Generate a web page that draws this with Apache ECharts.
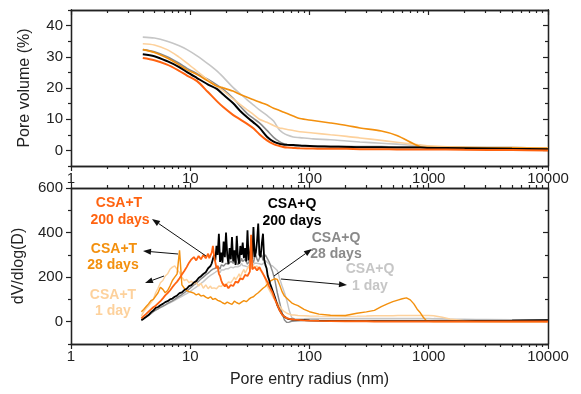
<!DOCTYPE html>
<html>
<head>
<meta charset="utf-8">
<script src="https://cdn.jsdelivr.net/npm/echarts@6/dist/echarts.min.js"></script>
<style>
  html, body { margin: 0; padding: 0; background: #fff; }
  #chart { width: 581px; height: 394px; }
</style>
</head>
<body>
<div id="chart"></div>
<script>
// cumulative pore volume (top panel)
const topRadius = [4, 5, 6.4, 8, 9.4, 11.4, 14, 16.7, 19, 22.8, 26, 30, 34, 38, 44, 50, 56, 60, 65, 73, 83, 107, 150, 205, 265, 400, 540, 740, 850, 970, 2000, 5000, 10000]
const volQ200 = [30.8, 30.2, 28.6, 26.8, 25.1, 23.2, 21.2, 19.7, 17.8, 15.2, 12.8, 10.6, 8.9, 7.3, 4.4, 2.8, 2.1, 1.9, 1.8, 1.7, 1.6, 1.3, 1.2, 1.1, 1.0, 1.0, 0.9, 0.9, 0.9, 0.8, 0.7, 0.5, 0.4]
const volQ28 = [32.3, 31.6, 30.0, 28.0, 26.3, 24.6, 22.8, 21.0, 19.5, 16.8, 14.3, 11.8, 10.2, 8.8, 6.4, 4.2, 2.8, 2.2, 1.8, 1.6, 1.5, 1.4, 1.3, 1.3, 1.2, 1.2, 1.1, 1.1, 1.0, 1.0, 0.9, 0.9, 0.8]
const volQ1 = [36.3, 36.0, 35.0, 33.6, 32.3, 30.3, 27.8, 25.5, 23.4, 20.2, 18.3, 16.2, 14.5, 13.0, 11.2, 9.4, 6.5, 5.6, 4.9, 4.3, 4.1, 3.7, 3.4, 3.0, 2.7, 2.3, 2.0, 1.6, 1.4, 1.2, 1.0, 0.9, 0.8]
const volT1 = [34.2, 33.8, 32.3, 30.0, 28.0, 25.4, 22.6, 20.5, 19.0, 16.5, 14.8, 13.0, 11.5, 10.0, 9.0, 8.0, 7.2, 7.0, 6.7, 6.4, 6.0, 5.6, 5.0, 4.5, 4.0, 3.2, 2.6, 2.0, 1.8, 1.5, 1.0, 0.9, 0.8]
const volT28 = [32.3, 31.4, 29.6, 27.5, 25.8, 24.3, 22.3, 20.6, 20.0, 19.0, 18.0, 17.0, 16.2, 15.5, 14.6, 13.5, 12.8, 12.3, 11.8, 11.0, 10.2, 9.6, 8.8, 8.0, 7.2, 6.2, 4.8, 2.2, 1.2, 1.0, 0.9, 0.8, 0.7]
const volT200 = [29.6, 28.9, 27.5, 25.6, 24.0, 22.2, 18.8, 15.8, 13.8, 11.4, 10.0, 8.5, 7.0, 5.2, 3.2, 2.0, 1.4, 1.1, 0.9, 0.8, 0.7, 0.6, 0.5, 0.5, 0.4, 0.4, 0.3, 0.3, 0.3, 0.3, 0.2, 0.1, 0.0]

// differential distribution (bottom panel)
const radius = [
  3.89, 4.07, 4.27, 4.47, 4.68, 4.90, 5.13, 5.37, 5.62, 5.89, 6.17, 6.46, 6.76, 7.08, 7.41, 7.76, 8.13, 8.51, 8.91, 9.33,
  9.77, 10.23, 10.72, 11.22, 11.75, 12.30, 12.88, 13.49,
  14.13, 14.45, 14.79, 15.14, 15.49, 15.85, 16.22, 16.60, 16.98, 17.38,
  17.78, 18.20, 18.62, 19.05, 19.50, 19.95, 20.42, 20.89, 21.38, 21.88,
  22.39, 22.91, 23.44, 23.99, 24.55, 25.12, 25.70, 26.30, 26.92, 27.54,
  28.18, 28.84, 29.51, 30.20, 30.90, 31.62, 32.36, 33.11, 33.88, 34.67,
  35.48, 36.31, 37.15, 38.02, 38.90, 39.81, 40.74, 41.69, 42.66, 43.65,
  44.67, 45.71, 46.77, 47.86, 48.98, 50.12, 51.29,
  53.70, 56.23, 58.88, 61.66, 64.57, 67.61, 70.79,
  75, 80, 90, 100, 120, 150, 200, 250, 300, 350, 400, 450, 500, 550, 600, 650,
  700, 750, 800, 850, 900, 950, 1000, 1100, 1300, 1500, 2000, 2500, 3000, 5000, 7000, 10000]
const dvQ200 = [
  8, 14, 22, 30, 42, 50, 62, 66, 74, 80, 88, 92, 100, 104, 112, 118, 128, 132, 142, 148,
  160, 164, 176, 182, 196, 204, 214, 222,
  240, 236, 250, 262, 255, 300, 275, 340, 300, 395,
  268, 310, 265, 360, 290, 400, 300, 260, 330, 280,
  380, 270, 320, 255, 385, 290, 260, 340, 300, 355,
  285, 330, 270, 410, 275, 300, 350, 280, 425, 290,
  310, 360, 440, 300, 290, 350, 395, 280, 255, 240,
  205, 190, 170, 155, 140, 125, 110,
  75, 52, 33, 22, 15, 12, 10,
  9, 8, 7, 6, 5, 4, 4, 3, 3, 3, 3, 3, 3, 3, 3, 3,
  3, 3, 3, 3, 3, 3, 3, 3, 3, 3, 3, 4, 4, 5, 6, 7]
const dvQ28 = [
  5, 12, 20, 28, 36, 45, 52, 58, 64, 70, 76, 82, 88, 94, 100, 108, 115, 122, 130, 138,
  146, 155, 165, 172, 182, 192, 200, 210,
  218, 225, 228, 232, 236, 230, 240, 248, 250, 242,
  236, 255, 262, 250, 245, 262, 270, 258, 250, 272,
  280, 262, 258, 275, 270, 255, 250, 268, 285, 270,
  262, 280, 275, 258, 250, 275, 290, 278, 265, 290,
  300, 280, 270, 285, 285, 300, 275, 290, 300, 295,
  280, 270, 258, 240, 225, 205, 185,
  130, 85, 40, 8, -3, -2, 2,
  3, 4, 5, 5, 6, 6, 6, 6, 6, 6, 6, 6, 6, 6, 6, 6,
  6, 6, 6, 6, 6, 6, 6, 6, 6, 6, 6, 6, 6, 7, 8, 8]
const dvQ1 = [
  10, 16, 22, 30, 38, 46, 52, 58, 63, 68, 74, 80, 85, 90, 96, 102, 108, 114, 120, 126,
  133, 140, 148, 155, 165, 172, 180, 190,
  200, 204, 208, 212, 215, 220, 222, 226, 230, 224,
  220, 232, 240, 232, 228, 238, 245, 238, 235, 245,
  250, 242, 238, 248, 255, 246, 240, 252, 262, 252,
  245, 250, 255, 246, 240, 255, 265, 255, 248, 262,
  270, 262, 255, 260, 265, 256, 250, 265, 275, 270,
  265, 260, 255, 252, 250, 245, 240,
  230, 193, 160, 130, 95, 50, 20,
  12, 12, 13, 14, 15, 15, 15, 15, 15, 15, 15, 15, 15, 15, 15, 15,
  15, 15, 15, 15, 15, 15, 15, 14, 13, 12, 11, 10, 10, 9, 9, 8]
const dvT1 = [
  25, 45, 60, 72, 85, 100, 130, 150, 175, 185, 205, 215, 235, 245, 250, 235, 220, 200, 185, 190,
  175, 182, 170, 178, 160, 172, 150, 165,
  148, 155, 160, 150, 145, 152, 158, 148, 150, 160,
  165, 158, 155, 168, 175, 165, 165, 178, 185, 175,
  175, 190, 200, 188, 190, 205, 215, 200, 205, 225,
  235, 218, 220, 240, 250, 232, 235, 255, 260, 245,
  240, 250, 238, 245, 230, 225, 215, 205, 190, 170,
  155, 145, 140, 125, 115, 105, 98,
  85, 70, 55, 45, 38, 34, 30,
  30, 28, 27, 26, 25, 24, 24, 25, 26, 27, 27, 27, 27, 28, 28, 28,
  28, 28, 28, 28, 28, 28, 28, 27, 20, 12, 5, 2, 1, 0, 0, 0]
const dvT28 = [
  45, 55, 68, 80, 95, 100, 115, 130, 155, 145, 130, 140, 160, 185, 200, 215, 320, 165, 150, 140,
  135, 132, 128, 120, 125, 115, 118, 110,
  105, 110, 112, 104, 100, 106, 104, 98, 96, 94,
  92, 88, 85, 82, 80, 86, 88, 84, 82, 80,
  78, 86, 92, 88, 85, 82, 80, 84, 88, 92,
  95, 92, 90, 96, 100, 104, 108, 110, 112, 118,
  122, 126, 130, 135, 140, 146, 150, 155, 158, 165,
  170, 176, 182, 185, 188, 190, 193,
  190, 165, 135, 115, 105, 95, 85,
  78, 72, 55, 45, 34, 29, 28, 38, 44, 51, 68, 80, 90, 97, 103, 107,
  98, 80, 56, 40, 20, 6, 2, 1, 1, 1, 1, 1, 1, 1, 1, 1]
const dvT200 = [
  15, 25, 35, 45, 55, 65, 72, 82, 92, 105, 118, 128, 140, 155, 168, 180, 195, 212, 228, 245,
  265, 280, 290, 275, 295, 280, 300, 285,
  305, 285, 290, 310, 340, 295, 300, 240, 250, 215,
  205, 185, 172, 165, 158, 168, 162, 150, 150, 165,
  170, 160, 168, 180, 185, 175, 178, 195, 200, 190,
  195, 210, 215, 205, 208, 225, 390, 235, 230, 245,
  240, 230, 225, 245, 235, 225, 215, 205, 200, 185,
  175, 160, 150, 140, 130, 115, 100,
  75, 50, 32, 22, 16, 13, 11,
  9, 8, 6, 5, 4, 3, 2, 2, 2, 1, 1, 1, 1, 1, 1, 1,
  1, 1, 1, 1, 1, 1, 1, 1, 1, 1, 1, 1, 1, 1, 1, 1]

const xMajor = [1, 10, 100, 1000, 10000]
const xMinor = [2, 3, 4, 5, 6, 7, 8, 9, 20, 30, 40, 50, 60, 70, 80, 90, 200, 300, 400, 500, 600, 700, 800, 900,
  2000, 3000, 4000, 5000, 6000, 7000, 8000, 9000]
const volTicks = [0, 10, 20, 30, 40]
const volMinor = [-5, 5, 15, 25, 35, 45]
const dvTicks = [0, 200, 400, 600]
const dvMinor = [-100, 100, 300, 500]

const samples = [
  { name: 'CSA+Q 1 day', color: '#c6c6c6', width: 1.6, vol: volQ1, dv: dvQ1 },
  { name: 'CSA+Q 28 days', color: '#8a8a8a', width: 1.6, vol: volQ28, dv: dvQ28 },
  { name: 'CSA+T 1 day', color: '#fdd19c', width: 1.6, vol: volT1, dv: dvT1 },
  { name: 'CSA+T 28 days', color: '#f3900e', width: 1.6, vol: volT28, dv: dvT28 },
  { name: 'CSA+Q 200 days', color: '#000000', width: 2, vol: volQ200, dv: dvQ200 },
  { name: 'CSA+T 200 days', color: '#ff6310', width: 2, vol: volT200, dv: dvT200 }
]

const FONT = 'Liberation Sans, Arial, sans-serif'
const AX = '#222'

function xAxis(grid, pos, ticks, len, inside, withLabel) {
  return {
    type: 'log', logBase: 10, min: 1, max: 10000, gridIndex: grid, position: pos,
    axisLine: { show: true, onZero: false, lineStyle: { color: AX, width: 1.3 } },
    axisTick: { show: true, inside: inside, length: len, customValues: ticks, lineStyle: { color: AX, width: 1.2 } },
    axisLabel: withLabel
      ? { show: true, customValues: xMajor, formatter: v => String(v), fontSize: 15, color: AX, fontFamily: FONT, margin: 5 }
      : { show: false },
    splitLine: { show: false }
  }
}

function yAxis(grid, pos, min, max, ticks, len, inside, withLabel) {
  return {
    type: 'value', min: min, max: max, gridIndex: grid, position: pos,
    axisLine: { show: true, onZero: false, lineStyle: { color: AX, width: 1.3 } },
    axisTick: { show: true, inside: inside, length: len, customValues: ticks, lineStyle: { color: AX, width: 1.2 } },
    axisLabel: withLabel
      ? { show: true, customValues: ticks, fontSize: 15, color: AX, fontFamily: FONT, margin: 8 }
      : { show: false },
    splitLine: { show: false }
  }
}

const xAxes = [
  xAxis(0, 'bottom', xMajor, 5, false, true),
  xAxis(0, 'bottom', xMinor, 3, false, false),
  xAxis(0, 'top', xMajor, 5, true, false),
  xAxis(0, 'top', xMinor, 3, true, false),
  xAxis(1, 'bottom', xMajor, 5, false, true),
  xAxis(1, 'bottom', xMinor, 3, false, false),
  xAxis(1, 'top', xMajor, 5, false, false),
  xAxis(1, 'top', xMinor, 3, false, false)
]
xAxes[4].name = 'Pore entry radius (nm)'
xAxes[4].nameLocation = 'middle'
xAxes[4].nameGap = 28
xAxes[4].nameTextStyle = { fontSize: 16, color: AX, fontFamily: FONT }

const yAxes = [
  yAxis(0, 'left', -5, 45, volTicks, 5, false, true),
  yAxis(0, 'left', -5, 45, volMinor, 3, false, false),
  yAxis(0, 'right', -5, 45, volTicks, 5, true, false),
  yAxis(0, 'right', -5, 45, volMinor, 3, true, false),
  yAxis(1, 'left', -100, 600, dvTicks, 5, false, true),
  yAxis(1, 'left', -100, 600, dvMinor, 3, false, false),
  yAxis(1, 'right', -100, 600, dvTicks, 5, true, false),
  yAxis(1, 'right', -100, 600, dvMinor, 3, true, false)
]
yAxes[0].name = 'Pore volume (%)'
yAxes[4].name = 'dV/dlog(D)'
for (const i of [0, 4]) {
  yAxes[i].nameLocation = 'middle'
  yAxes[i].nameGap = 38
  yAxes[i].nameTextStyle = { fontSize: 16, color: AX, fontFamily: FONT }
}

const series = []
samples.forEach(s => {
  series.push({
    type: 'line', name: s.name, xAxisIndex: 0, yAxisIndex: 0,
    data: topRadius.map((r, i) => [r, s.vol[i]]),
    smooth: 0.3, showSymbol: false, lineStyle: { color: s.color, width: s.width }
  })
  series.push({
    type: 'line', name: s.name, xAxisIndex: 4, yAxisIndex: 4,
    data: radius.map((r, i) => [r, s.dv[i]]),
    showSymbol: false, lineStyle: { color: s.color, width: s.width * 0.9 }
  })
})

// annotations
const labels = [
  { t: 'CSA+T', x: 119, y: 203, c: '#ff6310' }, { t: '200 days', x: 120, y: 220, c: '#ff6310' },
  { t: 'CSA+T', x: 114, y: 249, c: '#f3900e' }, { t: '28 days', x: 113, y: 265, c: '#f3900e' },
  { t: 'CSA+T', x: 113, y: 295, c: '#fdd19c' }, { t: '1 day', x: 113, y: 311, c: '#fdd19c' },
  { t: 'CSA+Q', x: 292, y: 204, c: '#000' }, { t: '200 days', x: 292, y: 221, c: '#000' },
  { t: 'CSA+Q', x: 336, y: 238, c: '#8a8a8a' }, { t: '28 days', x: 336, y: 254, c: '#8a8a8a' },
  { t: 'CSA+Q', x: 370, y: 269, c: '#c6c6c6' }, { t: '1 day', x: 370, y: 286, c: '#c6c6c6' }
]
const arrows = [
  [206, 256, 152, 219], [178, 254, 143, 251], [164, 276, 145, 283],
  [274, 276, 312, 249], [281, 279, 347, 285]
]

function arrow(a) {
  const [x1, y1, x2, y2] = a
  const L = Math.hypot(x2 - x1, y2 - y1)
  const dx = (x2 - x1) / L, dy = (y2 - y1) / L
  const bx = x2 - dx * 8, by = y2 - dy * 8
  return [
    { type: 'line', z: 100, shape: { x1: x1, y1: y1, x2: bx, y2: by }, style: { stroke: '#111', lineWidth: 1 } },
    { type: 'polygon', z: 100, shape: { points: [[x2, y2], [bx - dy * 3, by + dx * 3], [bx + dy * 3, by - dx * 3]] }, style: { fill: '#111' } }
  ]
}

const graphic = []
arrows.forEach(a => graphic.push(...arrow(a)))
labels.forEach(l => graphic.push({
  type: 'text', z: 100, x: l.x, y: l.y,
  style: { text: l.t, fill: l.c, font: 'bold 14px ' + FONT, align: 'center', verticalAlign: 'middle' }
}))

const chart = echarts.init(document.getElementById('chart'))
chart.setOption({
  animation: false,
  backgroundColor: '#fff',
  grid: [
    { left: 71, right: 33, top: 10, height: 156 },
    { left: 71, right: 33, top: 188, height: 156 }
  ],
  xAxis: xAxes,
  yAxis: yAxes,
  series: series,
  graphic: graphic
})
</script>
</body>
</html>
